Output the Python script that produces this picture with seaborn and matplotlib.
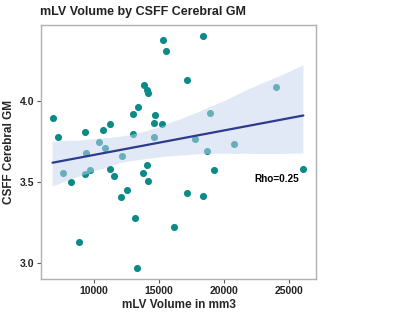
import numpy as np
import pandas as pd
import matplotlib
matplotlib.use("Agg")
import matplotlib.pyplot as plt
import seaborn as sns

# mLV volume (mm3) and CSFF cerebral GM values
mlv_volume = [6813, 7258, 9309, 9386, 10384, 10845, 10714, 11252, 12189, 13018,
              13034, 13395, 13878, 14109, 14163, 14700, 14631, 15207, 14631, 15299,
              15530, 17119, 18348, 18932, 17757, 18701, 23978, 20752, 7642, 8210,
              9309, 9716, 11252, 11521, 13748, 14109, 14170, 12573, 12074, 13149,
              8825, 13325, 16121, 17142, 18371, 19193, 26105]
csff_gm = [3.897, 3.778, 3.807, 3.679, 3.745, 3.712, 3.823, 3.856, 3.660, 3.799,
           3.922, 3.965, 4.101, 4.068, 4.051, 3.912, 3.862, 3.858, 3.780, 4.377,
           4.310, 4.130, 4.401, 3.926, 3.764, 3.693, 4.085, 3.736, 3.557, 3.500,
           3.551, 3.576, 3.580, 3.535, 3.554, 3.607, 3.509, 3.451, 3.409, 3.276,
           3.128, 2.971, 3.224, 3.432, 3.414, 3.574, 3.578]
rho_label = "Rho=0.25"

df = pd.DataFrame({"mLV": mlv_volume, "GM": csff_gm})

sns.set_style("white")
plt.rcParams['font.family'] = ['Liberation Sans', 'DejaVu Sans']

fig = plt.figure(figsize=(4, 3.18), dpi=100)
ax = fig.add_axes([0.1025, 0.1226, 0.6875, 0.7984])

sns.regplot(data=df, x="mLV", y="GM", ax=ax, ci=95, seed=0,
            scatter_kws=dict(s=26, color="#0b8a8a", alpha=1, linewidths=0),
            line_kws=dict(color="#2e3b8c", lw=1.6))

# lighten the confidence band like the reference
for coll in ax.collections[1:]:
    coll.set_facecolor("#c3d5ed")
    coll.set_alpha(0.5)
    coll.set_edgecolor("none")

ax.set_xlim(5923, 27077)
ax.set_ylim(2.90, 4.47)
ax.set_xticks([10000, 15000, 20000, 25000])
ax.set_yticks([3.0, 3.5, 4.0])
ax.set_yticklabels(["3.0", "3.5", "4.0"])

for s in ax.spines.values():
    s.set_color("#b0b0b0")
    s.set_linewidth(1.0)
ax.tick_params(axis="both", length=3, width=0.8, color="#555555",
               labelsize=7.5, labelcolor="#222222", pad=2, bottom=True, left=True)
for lab in ax.get_xticklabels() + ax.get_yticklabels():
    lab.set_fontweight("bold")

ax.set_xlabel("mLV Volume in mm3", fontsize=8.5, fontweight="bold", labelpad=2)
ax.set_ylabel("CSFF Cerebral GM", fontsize=8.5, fontweight="bold", labelpad=3)

ax.text(24090, 3.519, rho_label, fontsize=7.2, fontweight="bold",
        ha="center", va="center", color="black")

fig.text(0.1, 0.962, "mLV Volume by CSFF Cerebral GM", fontsize=9,
         fontweight="bold", color="#222222", ha="left", va="center")

fig.savefig("out.png", dpi=100)
